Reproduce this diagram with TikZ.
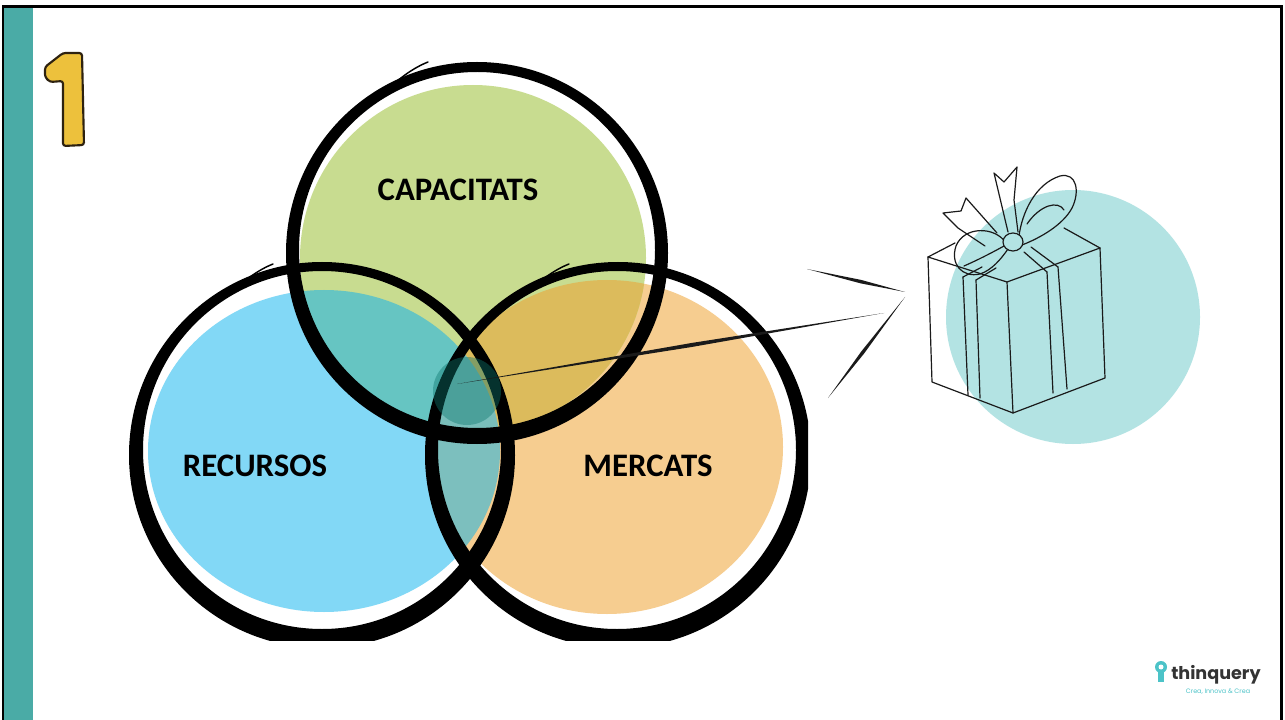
\documentclass[tikz,border=0pt]{standalone}
\usepackage{fontspec}
\setmainfont{Carlito}
\newfontfamily\logofont{Poppins}
\usetikzlibrary{calc}

\definecolor{stripe}{HTML}{4AABA6}
\definecolor{skyfill}{HTML}{82D8F6}
\definecolor{leaffill}{HTML}{C8DC90}
\definecolor{peachfill}{HTML}{F6CD90}
\definecolor{skyleaf}{HTML}{66C5C2}
\definecolor{leafpeach}{HTML}{DCBB5C}
\definecolor{skypeach}{HTML}{7CBFBE}
\definecolor{allthree}{HTML}{79BEBA}
\definecolor{spotcol}{HTML}{0C7870}
\definecolor{giftbg}{HTML}{B3E3E3}
\definecolor{ink}{HTML}{1A1A1A}
\definecolor{numfill}{HTML}{EDC13C}
\definecolor{numedge}{HTML}{2E2210}
\definecolor{logoteal}{HTML}{4CC3C8}
\definecolor{logotext}{HTML}{333333}

% tapered brush stroke between two named points
\newcommand\taperline[3]{%
  \fill[ink] (#1) -- ($(#1)!0.55!(#2)!#3!90:(#2)$) -- (#2)
    -- ($(#1)!0.55!(#2)!#3!-90:(#2)$) -- cycle;}

% fill areas of the three sets
\def\skyarea{(324,451) ellipse [x radius=176, y radius=161]}
\def\peacharea{(607,447) ellipse [x radius=176, y radius=167]}
\def\leafarea{(473,258) circle [radius=173]}

\begin{document}
\begin{tikzpicture}[x=0.75pt,y=-0.75pt,
  lbl/.style={font=\bfseries\fontsize{24.6}{28}\selectfont, text=black, inner sep=0pt},
  giftline/.style={draw=ink, line width=0.9pt, line cap=round, line join=round},
  flick/.style={draw=black, line width=1.1pt, line cap=round}]

\useasboundingbox (0,0) rectangle (1285,720);
\fill[white] (0,0) rectangle (1285,720);

% slide frame and side stripe
\fill[stripe] (4,7) rectangle (33,720);
\draw[line width=2.2pt] (3,720) -- (3,6.5) -- (1281.5,6.5) -- (1281.5,720);

% number badge
\draw[fill=numfill, draw=numedge, line width=1.6pt, rounded corners=2pt]
  (45,67) -- (63,53) -- (82,53) -- (84,145) -- (63,146) -- (63,81) -- (50,82) -- (45,77) -- cycle;

% ---------------- Venn diagram ----------------
\begin{scope}
  \clip (100,40) rectangle (808,640);
  \fill[skyfill] \skyarea;
  \fill[peachfill] \peacharea;
  \fill[leaffill] \leafarea;
  \begin{scope}\clip \skyarea; \fill[skyleaf] \leafarea; \end{scope}
  \begin{scope}\clip \leafarea; \fill[leafpeach] \peacharea; \end{scope}
  \begin{scope}\clip \skyarea; \fill[skypeach] \peacharea; \end{scope}
  \begin{scope}\clip \skyarea; \clip \leafarea; \fill[allthree] \peacharea; \end{scope}

  % brush rings
  \fill[black, even odd rule] (322,455) circle [radius=193] (322,450) circle [radius=179];
  \fill[black, even odd rule] (618,455) circle [radius=193] (617,450) circle [radius=179];
  \fill[black, even odd rule] (477,253) circle [radius=191] (477,250) circle [radius=178];

  % sketch flicks
  \draw[flick] (388,89) .. controls (400,78) and (413,68) .. (428,62);
  \draw[flick] (233,291) .. controls (245,280) and (258,270) .. (273,264);
  \draw[flick] (529,291) .. controls (541,280) and (554,270) .. (569,264);

  % centre spot
  \fill[spotcol, opacity=0.42] (467,391) circle [radius=34];
\end{scope}

\node[lbl] (capacitats) at (458,190) {CAPACITATS};
\node[lbl] (recursos) at (255,466) {RECURSOS};
\node[lbl] (mercats) at (648,466) {MERCATS};

% ---------------- gift ----------------
\fill[giftbg] (1073,317) circle [radius=127];

\coordinate (spot) at (457,384);
\coordinate (beamtip) at (884,313);
\coordinate (rayAa) at (807,269);
\coordinate (rayAb) at (905,292);
\coordinate (rayBa) at (905,297);
\coordinate (rayBb) at (828,398);
\taperline{spot}{beamtip}{1.5pt}
\taperline{rayAa}{rayAb}{1.3pt}
\taperline{rayBa}{rayBb}{1.3pt}

% box
\draw[giftline] (928,257) -- (932,382) -- (1013,413) -- (1105,378) -- (1100,248);
\draw[giftline] (928,257) -- (1007,282) -- (1100,248);
\draw[giftline] (1007,282) -- (1013,413);
\draw[giftline] (928,257) -- (955,243);
\draw[giftline] (1100,248) -- (1064,228);
% ribbon bands
\draw[giftline] (963,277) -- (968,395);
\draw[giftline] (976,280) -- (980,398);
\draw[giftline] (1047,272) -- (1053,393);
\draw[giftline] (1058,267) -- (1067,389);
\draw[giftline] (963,277) -- (982,267);
\draw[giftline] (976,280) -- (996,268);
\draw[giftline] (1047,272) -- (1024,252);
\draw[giftline] (1058,267) -- (1031,247);
% bow tails
\draw[giftline] (997,233) -- (966,198) -- (961,211) -- (943,213) -- (958,228) -- (985,246);
\draw[giftline] (1008,232) -- (994,173) -- (1004,182) -- (1017,167) -- (1014,200) -- (1018,232);
% bow loops
\draw[giftline] (1006,243) .. controls (995,226) and (964,226) .. (956,246)
  .. controls (950,264) and (962,278) .. (980,274) .. controls (992,270) and (1001,259) .. (1008,249);
\draw[giftline] (964,266) .. controls (980,259) and (995,251) .. (1004,246);
\draw[giftline] (1019,236) .. controls (1022,213) and (1035,184) .. (1060,176)
  .. controls (1077,172) and (1080,192) .. (1072,208) .. controls (1063,225) and (1040,238) .. (1022,245);
\draw[giftline] (1027,224) .. controls (1040,205) and (1058,200) .. (1064,210);
\draw[giftline, fill=giftbg] (1013,242) ellipse [x radius=10, y radius=9];

% ---------------- logo ----------------
\fill[logoteal] (1161,667) circle [radius=6];
\fill[logoteal] (1158,672) rectangle (1164,682);
\fill[white] (1161,667) circle [radius=2.5];
\node[anchor=base west, inner sep=0pt, text=logotext, font=\logofont\bfseries\fontsize{13.2}{15}\selectfont] (logo) at (1171,679) {thinquery};
\node[anchor=base, inner sep=0pt, text=logoteal, font=\logofont\fontsize{4.8}{6}\selectfont] (slogan) at (1218,693) {Crea, Innova \& Crea};

\end{tikzpicture}
\end{document}
